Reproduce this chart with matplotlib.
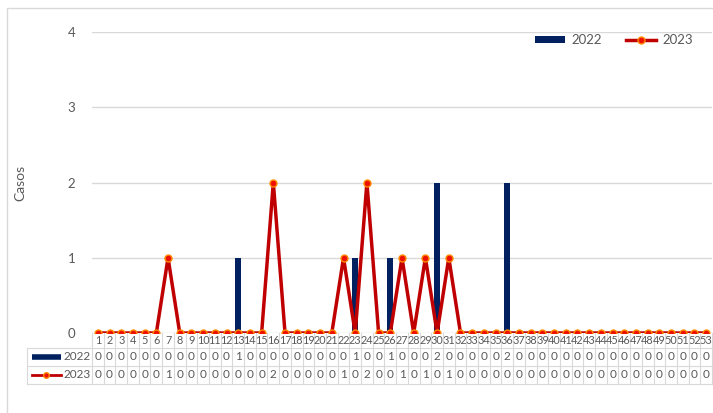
import matplotlib.pyplot as plt
from matplotlib.lines import Line2D
from matplotlib.patches import Rectangle

plt.rcParams['font.family'] = ['Lato', 'DejaVu Sans']

# semanas epidemiologicas
semanas = list(range(1, 54))
casos_2022 = [0, 0, 0, 0, 0, 0, 0, 0, 0, 0, 0, 0, 1, 0, 0, 0, 0, 0, 0, 0,
              0, 0, 1, 0, 0, 1, 0, 0, 0, 2, 0, 0, 0, 0, 0, 2, 0, 0, 0, 0,
              0, 0, 0, 0, 0, 0, 0, 0, 0, 0, 0, 0, 0]
casos_2023 = [0, 0, 0, 0, 0, 0, 1, 0, 0, 0, 0, 0, 0, 0, 0, 2, 0, 0, 0, 0,
              0, 1, 0, 2, 0, 0, 1, 0, 1, 0, 1, 0, 0, 0, 0, 0, 0, 0, 0, 0,
              0, 0, 0, 0, 0, 0, 0, 0, 0, 0, 0, 0, 0]
yticks = [0, 1, 2, 3, 4]

gris = '#595959'
grid_col = '#d9d9d9'
navy = '#002060'
rojo = '#c00000'

fig = plt.figure(figsize=(7.13, 4.13), dpi=100)
ax = fig.add_axes([92/713, 1-333/413, 620/713, 301/413])

barras = ax.bar(semanas, casos_2022, width=0.5, color=navy, label='2022', zorder=2)
linea, = ax.plot(semanas, casos_2023, color=rojo, lw=2.5, marker='o', ms=5,
                 mfc='#ee1100', mec='#ff8c00', mew=1, label='2023', zorder=3)

ax.set_xlim(0.5, 53.5)
ax.set_ylim(0, 4)
ax.set_yticks(yticks)
ax.set_xticks([])
ax.tick_params(axis='y', length=0, labelsize=9.5, labelcolor=gris, pad=12)
ax.grid(axis='y', color=grid_col, lw=1, zorder=0)
for s in ax.spines.values():
    s.set_visible(False)
ax.set_ylabel('Casos', fontsize=10, color=gris, labelpad=30)

# tabla de datos
def yf(pix):
    return (333 - pix) / 301

fs = 8.5
xt = ax.get_xaxis_transform()
for w, a, b in zip(semanas, casos_2022, casos_2023):
    ax.text(w, yf(341), str(w), transform=xt, ha='center', va='center',
            fontsize=7.8, color=gris, clip_on=False)
    ax.text(w, yf(357), str(a), transform=xt, ha='center', va='center',
            fontsize=fs, color=gris, clip_on=False)
    ax.text(w, yf(375), str(b), transform=xt, ha='center', va='center',
            fontsize=fs, color=gris, clip_on=False)

for w in range(54):
    ax.add_line(Line2D([w + 0.5, w + 0.5], [0, yf(384)], transform=xt,
                       color=grid_col, lw=0.8, clip_on=False))
xl = (27 - 92) / 620
for p in [348, 366, 384]:
    ax.add_line(Line2D([xl, 1], [yf(p), yf(p)], transform=ax.transAxes,
                       color=grid_col, lw=0.8, clip_on=False))
ax.add_line(Line2D([xl, xl], [yf(348), yf(384)], transform=ax.transAxes,
                   color=grid_col, lw=0.8, clip_on=False))

# claves de la tabla
k0, k1 = (32 - 92) / 620, (61 - 92) / 620
ax.add_line(Line2D([k0, k1], [yf(357), yf(357)], transform=ax.transAxes,
                   color=navy, lw=4, solid_capstyle='butt', clip_on=False))
ax.add_line(Line2D([k0, k1], [yf(375), yf(375)], transform=ax.transAxes,
                   color=rojo, lw=2, clip_on=False))
ax.add_line(Line2D([(k0 + k1) / 2], [yf(375)], transform=ax.transAxes,
                   marker='o', ms=4, mfc='#ee1100', mec='#ff8c00', clip_on=False))
tx = (64 - 92) / 620
ax.text(tx, yf(357), '2022', transform=ax.transAxes, ha='left', va='center',
        fontsize=fs, color=gris, clip_on=False)
ax.text(tx, yf(375), '2023', transform=ax.transAxes, ha='left', va='center',
        fontsize=fs, color=gris, clip_on=False)

fig.legend([barras, linea], ['2022', '2023'], loc='center',
           bbox_to_anchor=(614/713, 1-40/413), ncol=2,
           frameon=False, fontsize=9.5, labelcolor=gris, handlelength=2.3,
           handletextpad=0.5, columnspacing=1.8, handleheight=0.5)

fig.patches.append(Rectangle((7/713, -0.1), 1.2, 1 - 8/413 + 0.1,
                             transform=fig.transFigure, fill=False,
                             edgecolor=grid_col, lw=1))

fig.savefig('out.png', dpi=100)
